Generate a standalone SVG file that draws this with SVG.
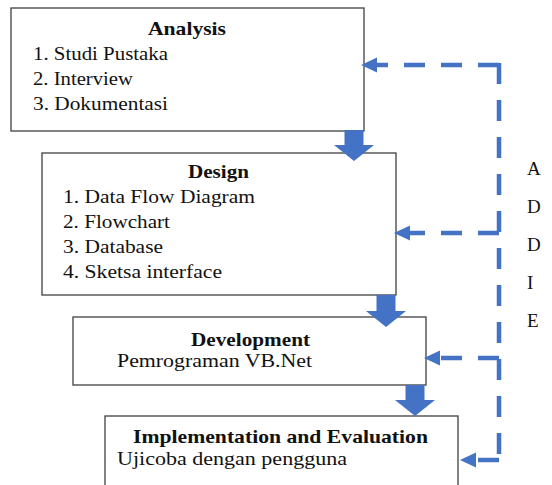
<svg xmlns="http://www.w3.org/2000/svg" width="552" height="485" viewBox="0 0 552 485">
<style>
.box{fill:#fff;stroke:#404040;stroke-width:1.3}
.t{font-family:"Liberation Serif","Times New Roman",serif;font-size:19px;fill:#111}
.b{font-weight:bold}
.blk{fill:#4472C4}
.dash{fill:none;stroke:#4472C4;stroke-width:4.5;stroke-dasharray:21 16}
</style>
<defs>
<marker id="ah" markerUnits="userSpaceOnUse" markerWidth="18" markerHeight="16" refX="6" refY="7.5" orient="auto">
<path d="M0,0 L16,7.5 L0,15 z" fill="#4472C4"/>
</marker>
</defs>
<g id="analysis">
<rect class="box" x="11" y="8" width="353" height="123"/>
<text class="t b" x="148" y="35" textLength="78" lengthAdjust="spacingAndGlyphs">Analysis</text>
<text class="t" x="33" y="60" textLength="135" lengthAdjust="spacingAndGlyphs">1. Studi Pustaka</text>
<text class="t" x="33" y="85" textLength="100" lengthAdjust="spacingAndGlyphs">2. Interview</text>
<text class="t" x="33" y="110" textLength="135" lengthAdjust="spacingAndGlyphs">3. Dokumentasi</text>
</g>
<g id="design">
<rect class="box" x="42" y="153" width="354" height="142"/>
<text class="t b" x="188" y="178" textLength="61" lengthAdjust="spacingAndGlyphs">Design</text>
<text class="t" x="63" y="203" textLength="192" lengthAdjust="spacingAndGlyphs">1. Data Flow Diagram</text>
<text class="t" x="63" y="228" textLength="107" lengthAdjust="spacingAndGlyphs">2. Flowchart</text>
<text class="t" x="63" y="253" textLength="100" lengthAdjust="spacingAndGlyphs">3. Database</text>
<text class="t" x="63" y="278" textLength="159" lengthAdjust="spacingAndGlyphs">4. Sketsa interface</text>
</g>
<g id="development">
<rect class="box" x="73" y="317" width="353" height="68"/>
<text class="t b" x="191" y="346" textLength="119" lengthAdjust="spacingAndGlyphs">Development</text>
<text class="t" x="117" y="367" textLength="195" lengthAdjust="spacingAndGlyphs">Pemrograman VB.Net</text>
</g>
<g id="implementation">
<rect class="box" x="105" y="416" width="353" height="80"/>
<text class="t b" x="133" y="443" textLength="295" lengthAdjust="spacingAndGlyphs">Implementation and Evaluation</text>
<text class="t" x="117" y="465" textLength="230" lengthAdjust="spacingAndGlyphs">Ujicoba dengan pengguna</text>
</g>
<g id="addie-label">
<text class="t" x="527" y="175">A</text>
<text class="t" x="527" y="213">D</text>
<text class="t" x="527" y="251">D</text>
<text class="t" x="527" y="289">I</text>
<text class="t" x="527" y="327">E</text>
</g>
<g id="connectors">
<polygon class="blk" points="344.5,130 363.5,130 363.5,145 374,145 354,161 334,145 344.5,145"/>
<polygon class="blk" points="376.5,295 395.5,295 395.5,311 406,311 386,327 366,311 376.5,311"/>
<polygon class="blk" points="405.5,385 424.5,385 424.5,400 435,400 415,416 395,400 405.5,400"/>
<path class="dash" d="M499,63 V462"/>
<path class="dash" d="M499,65 H371" marker-end="url(#ah)"/>
<path class="dash" d="M499,233 H404" marker-end="url(#ah)"/>
<path class="dash" d="M499,358 H434" marker-end="url(#ah)"/>
<path class="dash" d="M499,460 H470" marker-end="url(#ah)"/>
</g>
</svg>
